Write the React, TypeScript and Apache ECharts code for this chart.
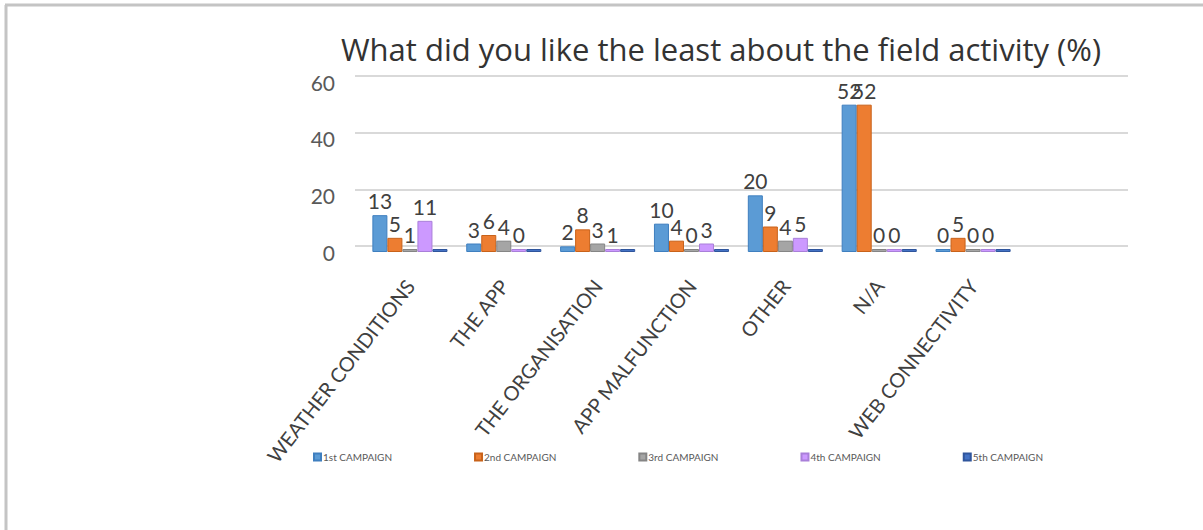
import React, { useEffect, useRef } from "react";
import * as echarts from "echarts";

const categories = [
  "WEATHER CONDITIONS",
  "THE APP",
  "THE ORGANISATION",
  "APP MALFUNCTION",
  "OTHER",
  "N/A",
  "WEB CONNECTIVITY",
];
const seriesNames = ["1st CAMPAIGN", "2nd CAMPAIGN", "3rd CAMPAIGN", "4th CAMPAIGN", "5th CAMPAIGN"];
const campaign1 = [13, 3, 2, 10, 20, 52, 0];
const campaign2 = [5, 6, 8, 4, 9, 52, 5];
const campaign3 = [1, 4, 3, 0, 4, 0, 0];
const campaign4 = [11, 0, 1, 3, 5, 0, 0];
const campaign5 = [0, 0, 0, 0, 0, 0, 0];
const yTicks = { min: 0, max: 60, interval: 20 };
const colors = ["#5B9BD5", "#ED7D31", "#A5A5A5", "#CC99FF", "#4472C4"];
const sideColors = ["#3F7FBF", "#C8621A", "#858585", "#A97FD9", "#2F559C"];

const FONT = "Lato, 'Noto Sans', sans-serif";

export default function App() {
  const ref = useRef<HTMLDivElement>(null);
  useEffect(() => {
    if (!ref.current) return;
    const chart = echarts.init(ref.current, undefined, { renderer: "svg" });
    const values = [campaign1, campaign2, campaign3, campaign4, campaign5];
    chart.setOption({
      animation: false,
      backgroundColor: "#ffffff",
      textStyle: { fontFamily: FONT },
      title: {
        text: "What did you like the least about the field activity (%)",
        left: 716,
        textAlign: "center",
        top: 28,
        textStyle: { fontFamily: "'Open Sans', 'Noto Sans', sans-serif", fontSize: 31, fontWeight: "normal", color: "#333333" },
      },
      legend: {
        data: seriesNames,
        left: 308,
        top: 447,
        itemWidth: 7,
        itemHeight: 7,
        itemGap: 82,
        icon: "rect",
        textStyle: { fontFamily: FONT, fontSize: 10, color: "#595959", padding: [0, 0, 0, -3] },
      },
      graphic: [
        { type: "line", shape: { x1: 5, y1: 5, x2: 1203, y2: 5 }, style: { stroke: "#c4c4c4", lineWidth: 3 } },
        { type: "line", shape: { x1: 6, y1: 5, x2: 6, y2: 530 }, style: { stroke: "#c4c4c4", lineWidth: 3 } },
      ],
      grid: [
        { left: 363, right: 183, top: 82, bottom: 278 },
        { left: 355, right: 75, top: 76, bottom: 284 },
      ],
      xAxis: [
        {
          type: "category",
          gridIndex: 0,
          data: categories,
          axisLine: { show: false },
          axisTick: { show: false },
          axisLabel: {
            rotate: 52,
            interval: 0,
            margin: 30,
            fontFamily: FONT,
            fontSize: 20,
            color: "#404040",
          },
        },
        { type: "category", gridIndex: 1, data: categories, show: false },
      ],
      yAxis: [
        {
          type: "value",
          gridIndex: 0,
          ...yTicks,
          axisLine: { show: false },
          axisTick: { show: false },
          splitLine: { show: false },
          axisLabel: { margin: 28, fontFamily: FONT, fontSize: 21, color: "#595959" },
        },
        {
          type: "value",
          gridIndex: 1,
          ...yTicks,
          axisLine: { show: false },
          axisTick: { show: false },
          axisLabel: { show: false },
          splitLine: { lineStyle: { color: "#d9d9d9", width: 2 } },
        },
      ],
      series: seriesNames.map((name, i) => ({
        name,
        type: "bar",
        xAxisIndex: 0,
        yAxisIndex: 0,
        data: values[i],
        barGap: "0%",
        barCategoryGap: "20%",
        barMinHeight: 3,
        itemStyle: { color: colors[i], borderColor: sideColors[i], borderWidth: 1 },
        label: {
          show: i < 4,
          position: "top",
          distance: 4,
          fontFamily: FONT,
          fontSize: 21,
          color: "#404040",
        },
      })),
    });
    return () => chart.dispose();
  }, []);
  return (
    <div
      ref={ref}
      style={{ position: "absolute", left: 0, top: 0, width: 1203, height: 530 }}
    />
  );
}
